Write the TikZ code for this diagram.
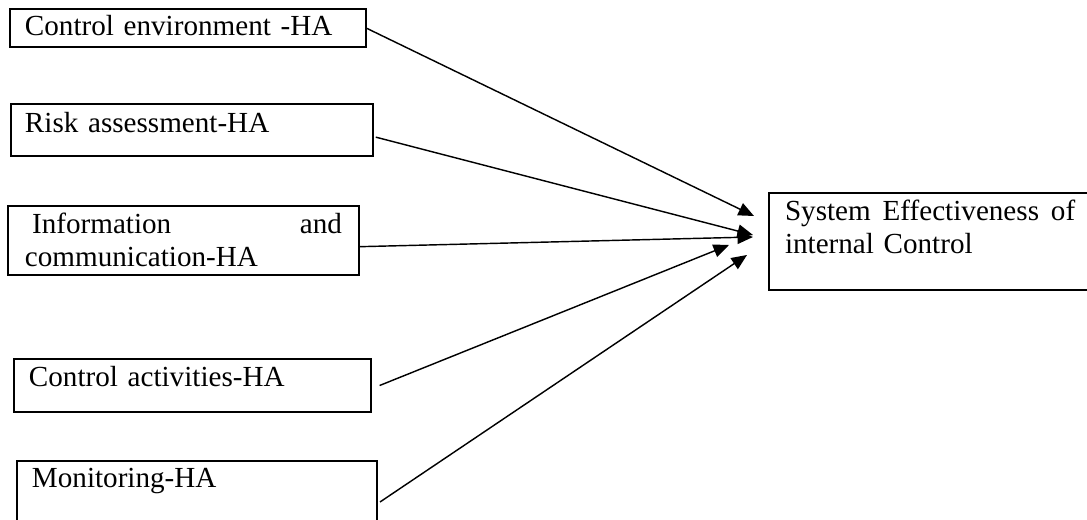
\documentclass[tikz,border=0pt]{standalone}
\usepackage{fontspec}
\setmainfont{Liberation Serif}
\usetikzlibrary{arrows.meta}

\begin{document}
\begin{tikzpicture}[x=0.4189pt,y=-0.4189pt,
    factor/.style={draw,line width=0.85pt,anchor=north west,inner ysep=0pt,outer sep=0pt,
      align=left,font=\fontsize{12.2pt}{13.8pt}\selectfont},
    link/.style={line width=0.6pt,-{Triangle[length=6.5pt,width=5.5pt]}}]
    \useasboundingbox (0,0) rectangle (1087,520);

    % the five HA factors
    \node[factor,inner xsep=6.28pt,text width=136.6pt,text height=11.31pt,text depth=4.61pt] (ctrlenv) at (10,9) {Control environment -HA};
    \node[factor,inner xsep=5.86pt,text width=139.9pt,text height=12.15pt,text depth=9.63pt] (risk) at (11,104) {Risk assessment-HA};
    \node[factor,inner xsep=7.12pt,text width=132.8pt,text height=11.73pt,text depth=17.17pt] (info) at (8,206) {\hspace*{3pt}Information\hfill and\\communication-HA};
    \node[factor,inner xsep=6.28pt,text width=137.0pt,text height=11.73pt,text depth=10.47pt] (ctrlact) at (14,359) {Control activities-HA};
    \node[factor,inner xsep=6.28pt,text width=138.2pt,text height=11.31pt,text depth=14.24pt] (monitor) at (17,461) {Monitoring-HA};

    % outcome
    \node[factor,inner xsep=6.70pt,text width=125.7pt,text height=11.73pt,text depth=28.9pt] (syseff) at (769,193) {System\hspace{5pt}Effectiveness\hspace{5pt}of\\internal Control};

    \coordinate (in1) at (754,216);
    \coordinate (in2) at (753,235);
    \coordinate (in3) at (753,237);
    \coordinate (in4) at (729,245);
    \coordinate (in5) at (747,255);

    \draw[link] (ctrlenv.east) -- (in1);
    \draw[link] ([xshift=1.2pt,yshift=-3pt]risk.east) -- (in2);
    \draw[link] ([yshift=-2.6pt]info.east) -- (in3);
    \draw[link] ([xshift=3.6pt]ctrlact.east) -- (in4);
    \draw[link] ([xshift=1.3pt,yshift=-4.4pt]monitor.east) -- (in5);

\end{tikzpicture}
\end{document}
